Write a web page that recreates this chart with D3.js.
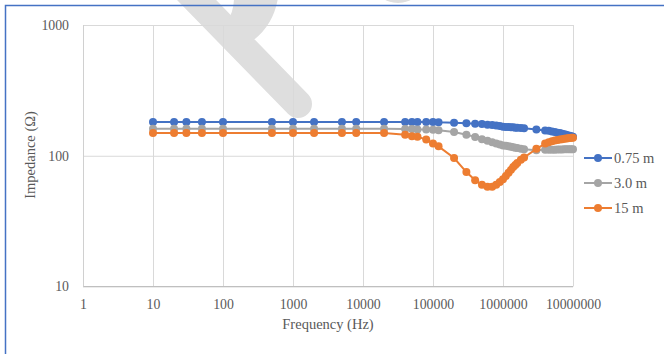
<!DOCTYPE html>
<html>
<head>
<meta charset="utf-8">
<script src="https://cdn.jsdelivr.net/npm/d3@7"></script>
<style>
  body { margin: 0; background: #fff; }
  text { font-family: "Liberation Serif", "Times New Roman", serif; }
</style>
</head>
<body>
<svg id="chart" width="664" height="354"></svg>
<script>
// frequency sweep (Hz)
const freqs = [10, 20, 30, 50, 100, 500, 1000, 2000, 5000, 8000,
  20000, 40000, 50000, 60000, 80000, 100000, 120000, 200000, 300000, 400000,
  500000, 600000, 700000, 800000, 900000, 1000000, 1100000, 1200000, 1300000, 1400000,
  1500000, 1600000, 1800000, 2000000, 3000000, 4000000, 4500000, 5000000, 5500000, 6000000,
  6500000, 7000000, 7500000, 8000000, 8500000, 9000000, 9500000, 10000000];

// impedance (ohm)
const z075 = [181, 181, 181, 181, 181, 181, 181, 181, 181, 181,
  181, 181, 181, 181, 181, 181, 180, 179, 177, 176,
  175, 173, 172, 170, 169, 167, 166, 166, 165, 165,
  164, 164, 163, 162, 159, 156, 155, 153, 152, 150,
  149, 147, 146, 145, 143, 142, 141, 140];
const z30 = [161, 161, 161, 161, 161, 161, 161, 161, 161, 161,
  161, 160, 160, 159, 159, 158, 157, 152, 145, 139,
  134, 130, 127, 124, 122, 120, 119, 118, 117, 116,
  115, 114.5, 113, 112, 110, 111, 111, 111, 111, 111.5,
  111.5, 111.5, 112, 112, 112, 112, 112, 112];
const z15 = [149, 149, 149, 149, 149, 149, 149, 149, 149, 149,
  149, 145, 141, 140, 133, 124, 118, 96, 75, 65,
  60, 58, 58, 60, 63, 66, 70, 74, 78, 82,
  85, 88, 93, 97, 113, 124, 127, 129, 131, 132,
  133, 134, 135, 135.5, 136, 136.5, 137, 137.5];

const seriesNames = ["0.75 m", "3.0 m", "15 m"];
const seriesColors = ["#4472c4", "#a5a5a5", "#ed7d31"];
const xTicks = [1, 10, 100, 1000, 10000, 100000, 1000000, 10000000];
const yTicks = [10, 100, 1000];

const svg = d3.select("#chart");
const x = d3.scaleLog().domain([1, 10000000]).range([83, 573]);
const y = d3.scaleLog().domain([10, 1000]).range([286.5, 25]);
const textColor = "#595959";
const serif = "'Liberation Serif', 'Times New Roman', serif";

// watermark
const wm = svg.append("g").attr("fill", "#dedede").attr("stroke", "#dedede");
wm.append("line")
  .attr("x1", 180).attr("y1", -17).attr("x2", 298).attr("y2", 104)
  .attr("stroke-width", 28).attr("stroke-linecap", "round");
wm.append("path")
  .attr("stroke", "none")
  .attr("d", "M234,-2 L278,-2 Q273,28 248,44 L226,24 Q234,12 234,-2 Z");
wm.append("ellipse")
  .attr("stroke", "none")
  .attr("cx", 398).attr("cy", -19).attr("rx", 25).attr("ry", 22);

// outer border
svg.append("rect")
  .attr("x", 5.5).attr("y", 5.5).attr("width", 700).attr("height", 400)
  .attr("fill", "none").attr("stroke", "#4472c4").attr("stroke-width", 1.5);

// grid
const gx = svg.append("g")
  .attr("transform", "translate(0,286.5)")
  .call(d3.axisBottom(x).tickValues(xTicks).tickSize(-261.5).tickFormat(""));
gx.select(".domain").remove();
gx.selectAll("line").attr("stroke", "#d9d9d9");

const gy = svg.append("g")
  .attr("transform", "translate(83,0)")
  .call(d3.axisLeft(y).tickValues(yTicks).tickSize(-490).tickFormat(""));
gy.select(".domain").remove();
gy.selectAll("line").attr("stroke", "#d9d9d9");

// axis lines
svg.append("line").attr("x1", 83).attr("x2", 573).attr("y1", 286.5).attr("y2", 286.5)
  .attr("stroke", "#bfbfbf");
svg.append("line").attr("x1", 83.5).attr("x2", 83.5).attr("y1", 25).attr("y2", 286.5)
  .attr("stroke", "#d0d0d0");

// tick labels
const ax = svg.append("g")
  .attr("transform", "translate(0,296)")
  .call(d3.axisBottom(x).tickValues(xTicks).tickSize(0).tickFormat(d3.format("d")));
ax.select(".domain").remove();
ax.selectAll("text")
  .attr("fill", textColor).style("font-size", "13.8px")
  .style("font-family", serif);

const ay = svg.append("g")
  .attr("transform", "translate(72,0)")
  .call(d3.axisLeft(y).tickValues(yTicks).tickSize(0).tickFormat(d3.format("d")));
ay.select(".domain").remove();
ay.selectAll("text")
  .attr("fill", textColor).style("font-size", "13.8px")
  .style("font-family", serif);

// axis titles
svg.append("text")
  .attr("x", 328).attr("y", 328.5)
  .attr("text-anchor", "middle")
  .attr("fill", textColor).style("font-size", "14.5px")
  .style("font-family", serif)
  .text("Frequency (Hz)");
svg.append("text")
  .attr("transform", "translate(34.5,155) rotate(-90)")
  .attr("text-anchor", "middle")
  .attr("fill", textColor).style("font-size", "14.5px")
  .style("font-family", serif)
  .text("Impedance (Ω)");

// series
const allSeries = [z075, z30, z15];
const line = d3.line().x((d) => x(d.f)).y((d) => y(d.z));

allSeries.forEach((vals, i) => {
  const pts = freqs.map((f, j) => ({ f: f, z: vals[j] }));
  const g = svg.append("g");
  g.append("path")
    .datum(pts)
    .attr("d", line)
    .attr("fill", "none")
    .attr("stroke", seriesColors[i])
    .attr("stroke-width", 2);
  g.selectAll("circle")
    .data(pts)
    .join("circle")
    .attr("cx", (d) => x(d.f))
    .attr("cy", (d) => y(d.z))
    .attr("r", 4)
    .attr("fill", seriesColors[i]);
});

// legend
const legend = svg.append("g").attr("transform", "translate(584,158)");
seriesNames.forEach((name, i) => {
  const row = legend.append("g").attr("transform", "translate(0," + i * 25 + ")");
  row.append("line")
    .attr("x1", 0).attr("x2", 28).attr("y1", 0).attr("y2", 0)
    .attr("stroke", seriesColors[i]).attr("stroke-width", 2);
  row.append("circle")
    .attr("cx", 14).attr("cy", 0).attr("r", 4)
    .attr("fill", seriesColors[i]);
  row.append("text")
    .attr("x", 30).attr("y", 5)
    .attr("fill", textColor).style("font-size", "14.5px")
    .style("font-family", serif)
    .text(name);
});
</script>
</body>
</html>
